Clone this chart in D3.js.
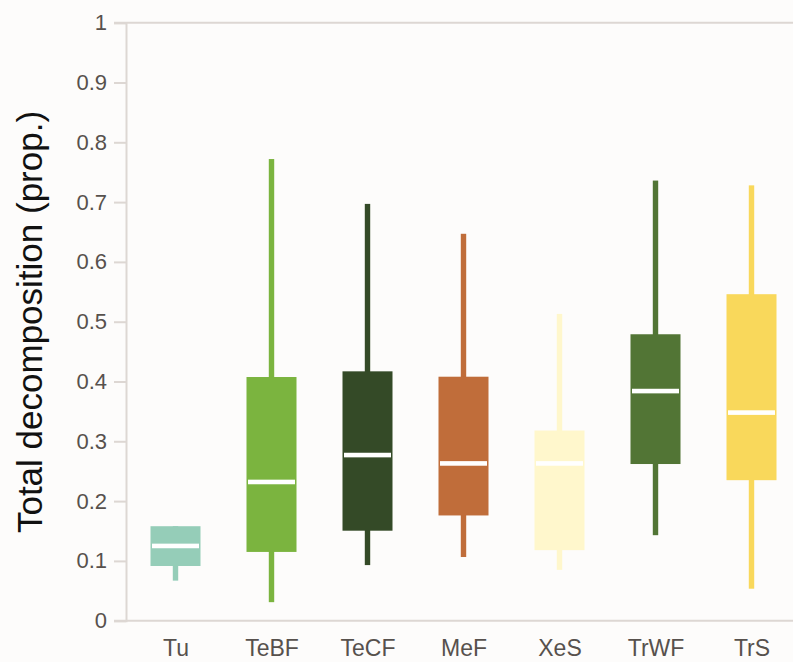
<!DOCTYPE html>
<html>
<head>
<meta charset="utf-8">
<script src="https://cdnjs.cloudflare.com/ajax/libs/d3/7.8.5/d3.min.js"></script>
<style>
  html, body { margin: 0; padding: 0; background: #fdfcfb; }
  svg { display: block; font-family: "Liberation Sans", Arial, Helvetica, sans-serif; }
</style>
</head>
<body>
<div id="chart"></div>
<script>
// Biomes and box statistics (proportion of total decomposition)
const categories = ['Tu', 'TeBF', 'TeCF', 'MeF', 'XeS', 'TrWF', 'TrS'];
const whiskerLow  = [0.067, 0.031, 0.093, 0.1065, 0.085, 0.143, 0.0535];
const q1          = [0.0915, 0.115, 0.1505, 0.176, 0.118, 0.262, 0.235];
const median      = [0.125, 0.232, 0.277, 0.263, 0.263, 0.384, 0.348];
const q3          = [0.158, 0.4075, 0.417, 0.408, 0.318, 0.479, 0.546];
const whiskerHigh = [0.158, 0.772, 0.697, 0.647, 0.513, 0.736, 0.728];
const colors      = ['#95cdb8', '#7bb43f', '#344a27', '#c06d3a', '#fff7cc', '#527535', '#f9d85b'];
const yTicks      = [0, 0.1, 0.2, 0.3, 0.4, 0.5, 0.6, 0.7, 0.8, 0.9, 1];

const width = 793, height = 662;
const axisColor = '#ddd7d3';
const textColor = '#57514d';

const svg = d3.select('#chart')
    .append('svg')
    .attr('width', width)
    .attr('height', height);

svg.append('rect')
    .attr('width', width)
    .attr('height', height)
    .attr('fill', '#fdfcfb');

// Scales
const x = d3.scalePoint()
    .domain(categories)
    .range([127.5, 799.5])
    .padding(0.5);

const y = d3.scaleLinear()
    .domain([0, 1])
    .range([620.7, 22.7]);

const boxW = 50;
const rows = categories.map((c, i) => ({
    cat: c, lo: whiskerLow[i], q1: q1[i], med: median[i], q3: q3[i], hi: whiskerHigh[i], color: colors[i]
}));

// Top and bottom frame lines
svg.selectAll('.frame')
    .data([1, 0])
    .enter()
    .append('line')
    .attr('class', 'frame')
    .attr('x1', 114).attr('x2', width)
    .attr('y1', d => y(d)).attr('y2', d => y(d))
    .attr('stroke', axisColor)
    .attr('stroke-width', 2);

// y axis
const yAxis = d3.axisLeft(y)
    .tickValues(yTicks)
    .tickFormat(d => d === 0 || d === 1 ? d3.format('d')(d) : d3.format('.1f')(d))
    .tickSize(12)
    .tickPadding(7);

const gy = svg.append('g')
    .attr('transform', 'translate(126,0)')
    .call(yAxis);
gy.select('.domain').attr('stroke', axisColor).attr('stroke-width', 2);
gy.selectAll('.tick line').attr('stroke', axisColor).attr('stroke-width', 2);
gy.selectAll('.tick text')
    .attr('fill', textColor)
    .style('font-size', '22px');

// x axis labels
const xAxis = d3.axisBottom(x).tickSize(0).tickPadding(19);
const gx = svg.append('g')
    .attr('transform', `translate(0,${y(0)})`)
    .call(xAxis);
gx.select('.domain').remove();
gx.selectAll('.tick text')
    .attr('fill', textColor)
    .style('font-size', '23px');

// y axis title
svg.append('text')
    .attr('transform', 'translate(42,322) rotate(-90)')
    .attr('text-anchor', 'middle')
    .attr('fill', '#111')
    .style('font-size', '35px')
    .text('Total decomposition (prop.)');

// Boxes
const g = svg.append('g').attr('class', 'boxes');

// whiskers
g.selectAll('.whisker')
    .data(rows)
    .enter()
    .append('rect')
    .attr('class', 'whisker')
    .attr('x', d => x(d.cat) - 2.7)
    .attr('width', 5.4)
    .attr('y', d => y(d.hi))
    .attr('height', d => y(d.lo) - y(d.hi))
    .attr('fill', d => d.color);

// boxes
g.selectAll('.box')
    .data(rows)
    .enter()
    .append('rect')
    .attr('class', 'box')
    .attr('x', d => x(d.cat) - boxW / 2)
    .attr('width', boxW)
    .attr('y', d => y(d.q3))
    .attr('height', d => y(d.q1) - y(d.q3))
    .attr('fill', d => d.color);

// medians
g.selectAll('.median')
    .data(rows)
    .enter()
    .append('rect')
    .attr('class', 'median')
    .attr('x', d => x(d.cat) - boxW / 2 + 1.5)
    .attr('width', boxW - 3)
    .attr('y', d => y(d.med) - 2.3)
    .attr('height', 4.6)
    .attr('fill', '#ffffff');
</script>
</body>
</html>
